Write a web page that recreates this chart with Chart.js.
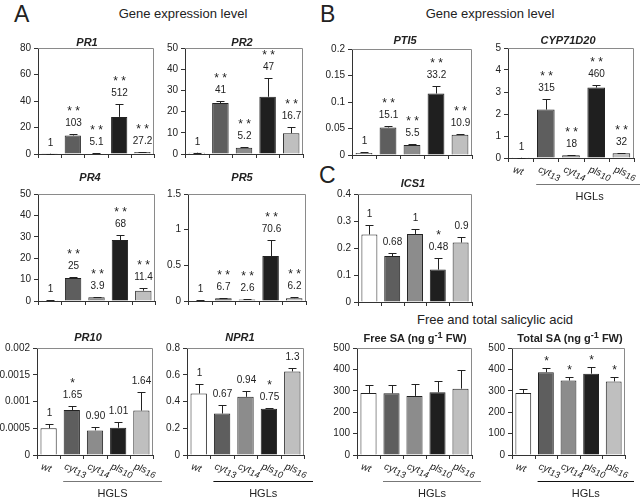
<!DOCTYPE html>
<html>
<head>
<meta charset="utf-8">
<script src="https://cdn.jsdelivr.net/npm/chart.js@4"></script>
<style>
  body { margin:0; width:640px; height:497px; overflow:hidden; background:#fff; position:relative; font-family:"Liberation Sans", Arial, sans-serif; color:#222; }
  canvas { position:absolute; }
  .lbl { position:absolute; white-space:nowrap; transform:translate(-50%,-50%); }
  .ttl { font-size:11px; font-weight:bold; font-style:italic; }
  .ttl.up { font-style:normal; }
  .head { font-size:13px; }
  .letter { position:absolute; font-size:23px; line-height:23px; }
</style>
</head>
<body>
<div class="letter" style="left:14px;top:3px">A</div>
<div class="letter" style="left:320px;top:3px">B</div>
<div class="letter" style="left:319px;top:164px">C</div>
<div class="lbl head" style="left:183px;top:13px">Gene expression level</div>
<div class="lbl head" style="left:490px;top:13px">Gene expression level</div>
<div class="lbl head" style="left:495px;top:319px">Free and total salicylic acid</div>

<script>
// genotypes
const groups = ['wt', 'cyt13', 'cyt14', 'pls10', 'pls16'];

// panel A
const pr1Values = [0.2, 14, 0.3, 28, 1.5];
const pr1Errors = [0.1, 0.9, 0.1, 9.5, 0.3];
const pr1Fold = ['1', '103', '5.1', '512', '27.2'];
const pr1Stars = ['', '**', '**', '**', '**'];

const pr2Values = [0.6, 24, 3, 27, 9.8];
const pr2Errors = [0.1, 1.2, 0.4, 9, 3];
const pr2Fold = ['1', '41', '5.2', '47', '16.7'];
const pr2Stars = ['', '**', '**', '**', '**'];

const pr4Values = [0.4, 10.8, 1.7, 28.5, 4.8];
const pr4Errors = [0.1, 0.6, 0.2, 2.4, 1.4];
const pr4Fold = ['1', '25', '3.9', '68', '11.4'];
const pr4Stars = ['', '**', '**', '**', '**'];

const pr5Values = [0.008, 0.04, 0.02, 0.63, 0.04];
const pr5Errors = [0.002, 0.005, 0.005, 0.22, 0.01];
const pr5Fold = ['1', '6.7', '2.6', '70.6', '6.2'];
const pr5Stars = ['', '**', '**', '**', '**'];

const pr10Values = [0.0005, 0.00084, 0.00046, 0.00051, 0.00083];
const pr10Errors = [0.00008, 0.00008, 0.00007, 0.00011, 0.00035];
const pr10Fold = ['1', '1.65', '0.90', '1.01', '1.64'];
const pr10Stars = ['', '*', '', '', ''];

const npr1Values = [0.46, 0.31, 0.435, 0.345, 0.625];
const npr1Errors = [0.07, 0.065, 0.045, 0.01, 0.022];
const npr1Fold = ['1', '0.67', '0.94', '0.75', '1.3'];
const npr1Stars = ['', '', '', '*', ''];

// panel B
const pti5Values = [0.004, 0.052, 0.019, 0.116, 0.038];
const pti5Errors = [0.001, 0.002, 0.001, 0.015, 0.001];
const pti5Fold = ['1', '15.1', '5.5', '33.2', '10.9'];
const pti5Stars = ['', '**', '**', '**', '**'];

const cypValues = [0.01, 2.2, 0.12, 3.2, 0.22];
const cypErrors = [0.005, 0.5, 0.03, 0.12, 0.03];
const cypFold = ['1', '315', '18', '460', '32'];
const cypStars = ['', '**', '**', '**', '**'];

// panel C
const ics1Values = [0.25, 0.17, 0.252, 0.12, 0.22];
const ics1Errors = [0.037, 0.01, 0.02, 0.042, 0.022];
const ics1Fold = ['1', '0.68', '1', '0.48', '0.9'];
const ics1Stars = ['', '', '', '*', ''];

const freeSaValues = [290, 288, 276, 293, 310];
const freeSaErrors = [38, 38, 55, 55, 85];

const totalSaValues = [290, 387, 348, 380, 344];
const totalSaErrors = [18, 20, 17, 32, 22];
const totalSaStars = ['', '*', '*', '*', '*'];

const barColors = ['#ffffff', '#5e5e5e', '#8c8c8c', '#1f1f1f', '#bfbfbf'];
const FONT = '"Liberation Sans", Arial, sans-serif';

const panels = [
  {title:'PR1', box:[38,47,154,155], tc:[87,42], max:80, step:20, values:pr1Values, errors:pr1Errors, fold:pr1Fold, stars:pr1Stars},
  {title:'PR2', box:[185,47,303,155], tc:[242,42], max:50, step:10, values:pr2Values, errors:pr2Errors, fold:pr2Fold, stars:pr2Stars},
  {title:'PTI5', box:[352,48,472,156], tc:[405,40], max:0.2, step:0.05, values:pti5Values, errors:pti5Errors, fold:pti5Fold, stars:pti5Stars},
  {title:'CYP71D20', box:[508,47,634,158], tc:[568,40], max:5, step:1, values:cypValues, errors:cypErrors, fold:cypFold, stars:cypStars, xlabels:true, hgl:'HGLs', hglColor:'#777'},
  {title:'PR4', box:[38,193,155,302], tc:[90,177], max:50, step:10, values:pr4Values, errors:pr4Errors, fold:pr4Fold, stars:pr4Stars},
  {title:'PR5', box:[188,193,306,302], tc:[242,177], max:1.5, step:0.5, values:pr5Values, errors:pr5Errors, fold:pr5Fold, stars:pr5Stars},
  {title:'ICS1', box:[358,193,472,303], tc:[413,183], max:0.4, step:0.1, values:ics1Values, errors:ics1Errors, fold:ics1Fold, stars:ics1Stars},
  {title:'PR10', box:[37,347,153,455], tc:[88,337], max:0.002, step:0.0005, values:pr10Values, errors:pr10Errors, fold:pr10Fold, stars:pr10Stars, xlabels:true, hgl:'HGLS', hglColor:'#777'},
  {title:'NPR1', box:[187,347,304,455], tc:[240,337], max:0.8, step:0.2, values:npr1Values, errors:npr1Errors, fold:npr1Fold, stars:npr1Stars, xlabels:true, hgl:'HGLs', hglColor:'#111'},
  {title:'Free SA (ng g<sup>-1</sup> FW)', up:true, box:[357,347,472,455], tc:[415,337], max:500, step:100, values:freeSaValues, errors:freeSaErrors, xlabels:true, hgl:'HGLs', hglColor:'#777'},
  {title:'Total SA (ng g<sup>-1</sup> FW)', up:true, box:[512,347,625,455], tc:[570,337], max:500, step:100, values:totalSaValues, errors:totalSaErrors, stars:totalSaStars, xlabels:true, hgl:'HGLs', hglColor:'#111'}
];

const AXIS_W = 48, PAD_T = 8, PAD_R = 12;

function drawGroupLabel(ctx, text, x, y) {
  const m = text.match(/^([a-z]+)(\d*)$/);
  ctx.save();
  ctx.translate(x, y);
  ctx.rotate(0.33);
  ctx.fillStyle = '#222';
  ctx.textAlign = 'left';
  ctx.textBaseline = 'alphabetic';
  ctx.font = 'italic 10px ' + FONT;
  ctx.fillText(m[1], 0, 0);
  const w = ctx.measureText(m[1]).width;
  ctx.font = 'italic 9px ' + FONT;
  ctx.fillText(m[2], w, 2);
  ctx.restore();
}

const decor = {
  id: 'decor',
  afterDatasetsDraw(chart, args, p) {
    const {ctx, chartArea: a, scales: {x, y}} = chart;
    ctx.save();
    // frame
    ctx.strokeStyle = '#8a8a8a';
    ctx.lineWidth = 1;
    ctx.beginPath();
    ctx.moveTo(a.left, a.top + 0.5); ctx.lineTo(a.right - 0.5, a.top + 0.5); ctx.lineTo(a.right - 0.5, a.bottom);
    ctx.stroke();
    // x ticks between categories
    const cw = (a.right - a.left) / groups.length;
    ctx.strokeStyle = '#333';
    ctx.beginPath();
    for (let i = 0; i <= groups.length; i++) {
      const tx = Math.round(a.left + i * cw) + 0.5;
      ctx.moveTo(tx, a.bottom); ctx.lineTo(tx, a.bottom + 4);
    }
    ctx.stroke();
    // error bars + annotations
    p.values.forEach((v, i) => {
      const cx = Math.round(x.getPixelForValue(i)) + 0.5;
      const yb = y.getPixelForValue(v);
      const yt = Math.round(y.getPixelForValue(v + p.errors[i])) + 0.5;
      ctx.strokeStyle = '#222';
      ctx.beginPath();
      ctx.moveTo(cx, yb); ctx.lineTo(cx, yt);
      ctx.moveTo(cx - 4, yt); ctx.lineTo(cx + 4, yt);
      ctx.stroke();
      ctx.fillStyle = '#222';
      ctx.textAlign = 'center';
      ctx.textBaseline = 'middle';
      let ty = yt - 11;
      if (p.fold) {
        ctx.font = '10px ' + FONT;
        ctx.fillText(p.fold[i], cx, ty);
        ty -= 14;
      } else {
        ty += 2;
      }
      if (p.stars && p.stars[i]) {
        ctx.font = '12px ' + FONT;
        ctx.fillText(p.stars[i].split('').join(' '), cx, ty + 2);
      }
    });
    // rotated genotype labels + bracket
    if (p.xlabels) {
      groups.forEach((g, i) => drawGroupLabel(ctx, g, x.getPixelForValue(i) - 8, a.bottom + 14));
      const x0 = a.left + cw + 3, x1 = a.right + 9, ly = a.bottom + 26.5;
      ctx.strokeStyle = p.hglColor;
      ctx.beginPath(); ctx.moveTo(x0, ly); ctx.lineTo(x1, ly); ctx.stroke();
      ctx.fillStyle = '#222';
      ctx.font = '11px ' + FONT;
      ctx.textAlign = 'center';
      ctx.textBaseline = 'middle';
      ctx.fillText(p.hgl, (x0 + x1) / 2, a.bottom + 39);
    }
    ctx.restore();
  }
};

function fmt(v) { return String(+v.toFixed(6)); }

panels.forEach(p => {
  const [l, t, r, b] = p.box;
  const bottomExtra = p.xlabels ? 48 : 8;
  const W = (r - l) + AXIS_W + PAD_R, H = (b - t) + PAD_T + bottomExtra;
  const cv = document.createElement('canvas');
  cv.width = W; cv.height = H;
  cv.style.left = (l - AXIS_W) + 'px';
  cv.style.top = (t - PAD_T) + 'px';
  cv.style.width = W + 'px'; cv.style.height = H + 'px';
  document.body.appendChild(cv);

  const tl = document.createElement('div');
  tl.className = 'lbl ttl' + (p.up ? ' up' : '');
  tl.style.left = p.tc[0] + 'px'; tl.style.top = p.tc[1] + 'px';
  tl.innerHTML = p.title;
  document.body.appendChild(tl);

  new Chart(cv.getContext('2d'), {
    type: 'bar',
    data: {
      labels: groups,
      datasets: [{
        data: p.values,
        backgroundColor: barColors,
        borderColor: '#222',
        borderWidth: 1,
        barPercentage: 0.7,
        categoryPercentage: 1
      }]
    },
    options: {
      responsive: false,
      devicePixelRatio: 1,
      animation: false,
      layout: {padding: {top: PAD_T, right: PAD_R, left: 0, bottom: 0}},
      plugins: {legend: {display: false}, tooltip: {enabled: false}, title: {display: false}, decor: p},
      scales: {
        x: {
          offset: true,
          ticks: {display: false},
          grid: {display: false},
          border: {display: true, color: '#333'},
          afterFit: s => { s.height = bottomExtra; }
        },
        y: {
          min: 0, max: p.max,
          ticks: {stepSize: p.step, callback: fmt, color: '#222', font: {size: 10, family: FONT}, padding: 3},
          grid: {drawOnChartArea: false, drawTicks: true, tickLength: 4, color: '#333'},
          border: {display: true, color: '#333'},
          afterFit: s => { s.width = AXIS_W; }
        }
      }
    },
    plugins: [decor]
  });
});
</script>
</body>
</html>
